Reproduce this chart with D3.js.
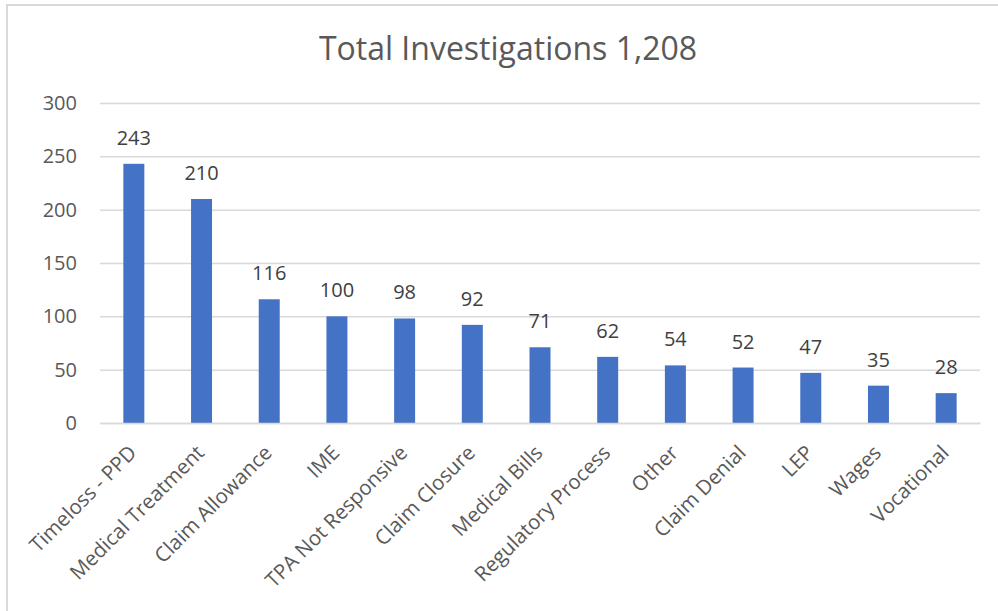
<!DOCTYPE html>
<html>
<head>
<meta charset="utf-8">
<script src="https://cdn.jsdelivr.net/npm/d3@7"></script>
<style>
	body { margin: 0; background: #fff; }
	svg { display: block; font-family: 'Open Sans', sans-serif; }
</style>
</head>
<body>
<svg id="chart" width="998" height="611"></svg>
<script>
const chartTitle = 'Total Investigations 1,208';
const categories = ['Timeloss - PPD', 'Medical Treatment', 'Claim Allowance', 'IME', 'TPA Not Responsive',
	'Claim Closure', 'Medical Bills', 'Regulatory Process', 'Other', 'Claim Denial', 'LEP', 'Wages', 'Vocational'];
const investigations = [243, 210, 116, 100, 98, 92, 71, 62, 54, 52, 47, 35, 28];
const yTicks = [0, 50, 100, 150, 200, 250, 300];

const Chart = {
	left: 100,
	right: 980,
	top: 103,
	bottom: 423,
	barColor: '#4472C4',
	gridColor: '#d9d9d9',

	draw: function() {
		const self = this;
		let svg = d3.select('#chart');

		let x = d3.scaleBand()
			.domain(categories)
			.range([ self.left, self.right ])
			.paddingInner(0.69)
			.paddingOuter(0.345);
		let y = d3.scaleLinear()
			.domain([ 0, 300 ])
			.range([ self.bottom, self.top ]);

		// frame (only top and left edges show in the picture)
		svg.append('path')
			.attr('d', 'M7,611 V5 H998')
			.attr('fill', 'none')
			.attr('stroke', self.gridColor)
			.attr('stroke-width', 2);

		svg.append('text')
			.attr('x', 508)
			.attr('y', 60)
			.attr('text-anchor', 'middle')
			.style('font-size', '32px')
			.style('fill', '#595959')
			.text(chartTitle);

		// gridlines + y labels
		let yAxis = d3.axisLeft(y)
			.tickValues(yTicks)
			.tickSize(-(self.right - self.left))
			.tickPadding(23);
		let gy = svg.append('g')
			.attr('transform', 'translate(' + self.left + ',0)')
			.call(yAxis);
		gy.select('.domain').remove();
		gy.selectAll('.tick line')
			.attr('stroke', self.gridColor)
			.attr('stroke-width', 1.5);
		gy.selectAll('.tick text')
			.style('font-size', '20px')
			.style('font-family', "'Open Sans', sans-serif")
			.style('fill', '#595959');

		svg.selectAll('rect.bar')
			.data(investigations)
			.enter()
			.append('rect')
			.attr('class', 'bar')
			.attr('x', (d, i) => x(categories[i]))
			.attr('y', d => y(d))
			.attr('width', x.bandwidth())
			.attr('height', d => y(0) - y(d))
			.style('fill', self.barColor);

		svg.selectAll('text.value')
			.data(investigations)
			.enter()
			.append('text')
			.attr('class', 'value')
			.attr('x', (d, i) => x(categories[i]) + x.bandwidth() / 2)
			.attr('y', d => y(d) - 19)
			.attr('text-anchor', 'middle')
			.style('font-size', '20px')
			.style('fill', '#404040')
			.text(d => d);

		// x axis labels, rotated
		let xAxis = d3.axisBottom(x)
			.tickSize(0)
			.tickPadding(0);
		let gx = svg.append('g')
			.attr('transform', 'translate(0,' + self.bottom + ')')
			.call(xAxis);
		gx.select('.domain')
			.attr('stroke', self.gridColor)
			.attr('stroke-width', 1.5);
		gx.selectAll('.tick text')
			.attr('text-anchor', 'end')
			.attr('dy', null)
			.attr('y', 0)
			.attr('transform', 'translate(4,31) rotate(-45)')
			.style('font-size', '20.5px')
			.style('font-family', "'Open Sans', sans-serif")
			.style('fill', '#595959');
	}
}

Chart.draw();
</script>
</body>
</html>
